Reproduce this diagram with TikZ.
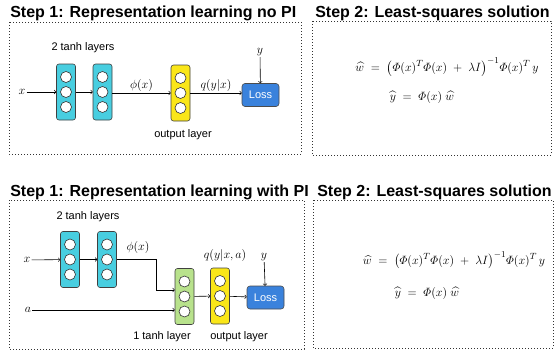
\documentclass[tikz,border=0pt]{standalone}
\usepackage{amsmath}
\usepackage{amssymb}
\usepackage{fontspec}
\setsansfont{Liberation Sans}
\usepackage{tikz}
\usetikzlibrary{arrows,calc}

\definecolor{tanhcol}{RGB}{72,206,224}
\definecolor{outcol}{RGB}{250,230,25}
\definecolor{picol}{RGB}{184,226,140}
\definecolor{losscol}{RGB}{58,130,220}

\tikzset{
  layer/.style={draw=black!75,line width=0.6pt,rounded corners=2.5pt,minimum width=19pt,minimum height=56pt,inner sep=0pt},
  unit/.style={circle,draw=black!80,fill=white,line width=0.6pt,minimum size=11pt,inner sep=0pt},
  lossbox/.style={draw=black!70,fill=losscol,text=white,rounded corners=3pt,minimum width=37pt,minimum height=23pt,font=\sffamily\fontsize{11}{12}\selectfont},
  frame/.style={draw=black!80,dotted,line width=1pt},
  steptitle/.style={anchor=west,inner sep=0pt,font=\sffamily\bfseries\fontsize{16}{17}\selectfont},
  layername/.style={font=\sffamily\fontsize{11}{12}\selectfont},
  var/.style={inner sep=1pt,font=\fontsize{12}{13}\selectfont},
  eqn/.style={font=\fontsize{13}{14}\selectfont},
  eqnsmall/.style={font=\fontsize{12.2}{13}\selectfont}
}

\begin{document}
\begin{tikzpicture}[x=1pt,y=-1pt,>=to,line width=0.6pt]
\useasboundingbox (0,0) rectangle (554,356);

% headings and frames
\node(t11)[steptitle] at (10,13)  {Step 1: Representation learning no PI};
\node(t12)[steptitle] at (315,13) {Step 2: Least-squares solution};
\node(t21)[steptitle] at (10,192) {Step 1: Representation learning with PI};
\node(t22)[steptitle] at (317,192){Step 2: Least-squares solution};
\draw[frame] (9,22)   rectangle (301,154);
\draw[frame] (312,21) rectangle (551,155);
\draw[frame] (9,200)  rectangle (304,349);
\draw[frame] (313,200) rectangle (553,348);

% network without PI
\node(x1) at (22,92)[var]                      {$x$};
\node(h11) at (66,92)[layer,fill=tanhcol]      {};
\node(h12) at (102.5,92)[layer,fill=tanhcol]   {};
\node(o1) at (180.5,93)[layer,fill=outcol]     {};
\node(loss1) at (260.5,95)[lossbox]            {Loss};
\node(y1) at (260,52)[var]                     {$y$};
\foreach \n in {h11,h12,o1}
  \foreach \dy in {-15,0,15}
    \node[unit] at ($(\n)+(0,\dy)$) {};

\node(lab11) at (83,48)[layername]  {2 tanh layers};
\node(lab12) at (183,135)[layername]{output layer};

\path [->]
  (x1)     edge                                   (h11)
  (h11)    edge                                   (h12)
  (h12.east |- 0,93) edge node [above,var] {$\phi(x)$}    (o1.west |- 0,93)
  (o1.east |- 0,93)  edge node [above,var] {$q(y|x)$}     (loss1.west |- 0,93)
  (y1)     edge                                   (loss1);

% network with PI
\node(x2) at (27,260)[var]                     {$x$};
\node(a2) at (28,310)[var]                     {$a$};
\node(h21) at (70,259.5)[layer,fill=tanhcol]   {};
\node(h22) at (107,259.5)[layer,fill=tanhcol]  {};
\node(g2) at (184.5,296.5)[layer,fill=picol]   {};
\node(o2) at (220,296)[layer,fill=outcol]      {};
\node(loss2) at (265.5,297.5)[lossbox]         {Loss};
\node(y2) at (264,257)[var]                    {$y$};
\coordinate(bend) at (156,290);
\foreach \n in {h21,h22,g2,o2}
  \foreach \dy in {-15,0,15}
    \node[unit] at ($(\n)+(0,\dy)$) {};

\node(lab21) at (88,217)[layername]  {2 tanh layers};
\node(lab22) at (162,337)[layername] {1 tanh layer};
\node(lab23) at (239,337)[layername] {output layer};
\node(phi2) at (138,247)[var]        {$\phi(x)$};
\node(q2) at (225,255)[var]          {$q(y|x,a)$};

\path [->]
  (x2)     edge                                   (h21)
  (h21)    edge                                   (h22)
  (g2)     edge                                   (o2)
  (o2)     edge                                   (loss2)
  (a2)     edge                                   (a2 -| g2.west)
  (y2)     edge                                   (loss2);
\draw[->] (h22.east) -| (bend) -- (bend -| g2.west);

% least-squares solutions
\node(w1) at (447,67)[eqn]
  {$\widehat{w} \;=\; \bigl(\varPhi(x)^T\varPhi(x) \;+\; \lambda I\bigr)^{-1}\varPhi(x)^T\,y$};
\node(yh1) at (422,97)[eqn] {$\widehat{y} \;=\; \varPhi(x)\;\widehat{w}$};
\node(w2) at (454,260)[eqnsmall]
  {$\widehat{w} \;=\; \bigl(\varPhi(x)^T\varPhi(x) \;+\; \lambda I\bigr)^{-1}\varPhi(x)^T\,y$};
\node(yh2) at (427,293)[eqn] {$\widehat{y} \;=\; \varPhi(x)\;\widehat{w}$};
\end{tikzpicture}
\end{document}
